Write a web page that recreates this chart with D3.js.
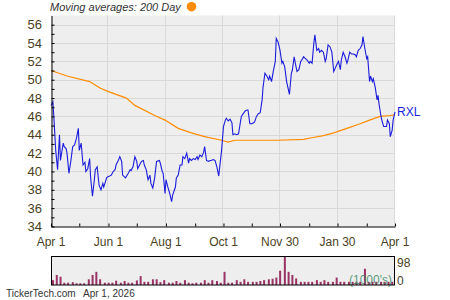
<!DOCTYPE html>
<html>
<head>
<meta charset="utf-8">
<script src="https://cdn.jsdelivr.net/npm/d3@7"></script>
<style>
body { margin: 0; background: white; }
svg { display: block; font-family: "Liberation Sans", Arial, sans-serif; }
</style>
</head>
<body>
<svg width="450" height="300"></svg>
<script>
// days counted from Apr 1 2025
const priceDays = [0,2,3,5,7,9,10,13,14,16,17,19,21,23,25,27,29,30,32,34,36,37,39,41,42,44,46,47,49,51,53,55,56,59,60,64,66,68,69,71,73,75,76,79,82,84,85,87,89,91,92,94,96,98,99,101,103,105,106,108,110,112,115,116,118,119,121,122,124,126,128,129,
  132,133,135,137,139,140,142,144,146,147,149,151,153,155,156,158,160,162,163,165,167,169,170,172,174,176,178,179,181,183,185,186,188,190,192,193,195,197,199,201,202,204,206,208,209,211,213,215,216,218,220,222,224,225,227,229,231,232,234,236,238,239,241,243,245,246,248,
  250,253,255,256,258,260,261,263,265,267,268,270,272,274,275,277,279,280,282,284,285,287,289,291,292,294,296,298,300,301,303,305,307,308,310,312,314,315,317,319,321,323,324,326,328,330,331,333,335,336,338,339,341,342,344,346,347,348,350,351,353,354,356,357,359,360,362,363,365];
const priceValues = [47.2,47.6,46.0,42.3,40.2,44.0,41.2,43.1,42.7,42.5,42.0,39.8,41.1,42.7,42.9,43.6,44.7,42.3,43.1,40.7,41.0,40.0,40.3,41.4,39.4,37.3,39.1,40.2,40.5,38.5,38.0,38.7,38.3,39.3,39.4,39.6,40.0,40.2,40.7,41.1,41.6,41.1,39.6,39.3,39.8,40.2,40.1,40.5,41.6,41.1,40.3,40.7,41.1,41.2,40.7,40.2,39.1,39.6,38.7,38.2,39.3,41.1,41.2,40.9,40.0,39.8,37.6,39.1,38.3,37.6,36.7,37.4,
  38.3,39.3,39.6,40.7,40.7,41.6,41.4,42.0,40.9,41.4,41.2,41.4,41.3,41.6,41.3,41.8,41.6,42.1,42.7,41.2,41.1,41.2,41.2,41.3,41.2,40.5,39.5,40.5,42.3,44.9,45.6,45.8,45.5,45.7,45.3,44.0,44.1,44.0,44.1,45.4,46.0,46.3,46.6,46.7,46.7,45.2,45.2,45.3,45.4,46.0,46.3,46.4,47.8,49.2,50.7,50.4,50.0,50.4,49.8,51.0,52.0,54.5,54.1,53.2,51.8,52.0,51.4,
  49.8,48.4,50.7,51.0,52.5,51.4,50.9,51.1,52.0,52.3,52.5,52.3,52.1,51.8,52.0,51.8,54.1,54.9,53.2,53.4,53.0,53.2,53.0,52.0,52.3,53.8,53.6,53.0,50.9,51.1,51.6,52.0,51.1,52.1,53.0,52.5,51.8,52.1,53.0,52.8,52.8,52.7,52.5,53.2,53.4,53.8,54.7,53.4,52.3,52.5,49.8,50.4,49.8,50.1,49.2,47.8,48.3,47.4,46.1,45.6,44.9,44.9,44.9,45.6,45.2,43.8,44.5,45.6,46.5];

const maDays = [0,17,41,52,61,80,89,110,121,135,149,163,181,188,195,241,268,278,289,300,314,328,338,349,360,365];
const maValues = [51.0,50.4,49.8,49.1,48.7,48.0,47.2,46.1,45.6,44.7,44.2,43.8,43.4,43.2,43.4,43.4,43.5,43.7,43.9,44.2,44.7,45.2,45.6,46.0,46.1,46.2];

// volume in thousands, one bar per ~4 days
const volumeValues = [17,35,29,8,8,10,6,6,6,20,35,46,20,8,8,8,15,8,14,8,8,16,31,11,11,
  20,20,10,17,8,8,14,8,17,8,6,8,8,17,8,17,14,8,46,8,8,17,11,20,11,11,11,14,17,20,22,26,50,98,46,35,23,
  11,11,11,11,17,11,17,11,11,26,11,11,11,11,11,11,57,11,11,11,11,11,11,11];

const xTickDays = [0,61,122,183,243,304,365];
const xTickLabels = ['Apr 1','Jun 1','Aug 1','Oct 1','Nov 30','Jan 30','Apr 1'];
const xMinorDays = [30,91,153,213,274,335];
const yTickValues = [34,36,38,40,42,44,46,48,50,52,54,56];

const svg = d3.select('svg');
const startDate = new Date(2025, 3, 1);
const dayToDate = d => d3.timeDay.offset(startDate, d);

const textColor = '#4a3f22';
const plot = { left: 51, right: 395, top: 15.5, bottom: 226.5 };
const vol = { top: 257, bottom: 285 };

const xScale = d3.scaleTime()
    .domain([startDate, dayToDate(365)])
    .range([plot.left, plot.right]);
const yScale = d3.scaleLinear()
    .domain([34, 57])
    .range([plot.bottom, plot.top]);
const vScale = d3.scaleLinear()
    .domain([0, 98])
    .range([vol.bottom, vol.top]);

// plot background
svg.append('rect')
    .attr('x', plot.left).attr('y', plot.top)
    .attr('width', plot.right - plot.left).attr('height', plot.bottom - plot.top)
    .attr('fill', '#eeeeee');

// grid
const grid = svg.append('g').attr('stroke', '#d9d9d9').attr('stroke-width', 1);
grid.selectAll('.hgrid').data(yTickValues.slice(1))
    .enter().append('line')
    .attr('x1', plot.left).attr('x2', plot.right)
    .attr('y1', d => Math.round(yScale(d)) + 0.5)
    .attr('y2', d => Math.round(yScale(d)) + 0.5);
grid.selectAll('.vgrid').data(xTickDays.slice(1))
    .enter().append('line')
    .attr('y1', plot.top).attr('y2', plot.bottom)
    .attr('x1', d => Math.round(xScale(dayToDate(d))) - 0.5)
    .attr('x2', d => Math.round(xScale(dayToDate(d))) - 0.5);

// moving average
const maLine = d3.line()
    .x((d, i) => xScale(dayToDate(maDays[i])))
    .y(d => yScale(d));
svg.append('path')
    .attr('d', maLine(maValues))
    .attr('fill', 'none')
    .attr('stroke', '#ff8c00')
    .attr('stroke-width', 1.2);

// price
const priceLine = d3.line()
    .x((d, i) => xScale(dayToDate(priceDays[i])))
    .y(d => yScale(d));
svg.append('path')
    .attr('d', priceLine(priceValues))
    .attr('fill', 'none')
    .attr('stroke', '#1c1cdc')
    .attr('stroke-width', 1.1);

// y axis
const yAxis = d3.axisLeft(yScale)
    .tickValues(d3.range(34, 57, 1))
    .tickSizeInner(-3).tickSizeOuter(0)
    .tickFormat('');
svg.append('g')
    .attr('transform', `translate(${plot.left + 0.5}, 0)`)
    .call(yAxis)
    .call(g => g.selectAll('line, path').attr('stroke', 'black'));
svg.append('g').selectAll('text').data(yTickValues)
    .enter().append('text')
    .attr('x', 42)
    .attr('y', d => yScale(d) + 4.5)
    .attr('text-anchor', 'end')
    .attr('font-size', 13)
    .attr('fill', textColor)
    .text(d => d);

// x axis
const xAxis = d3.axisBottom(xScale)
    .tickValues(xTickDays.concat(xMinorDays).map(dayToDate))
    .tickSizeInner(-3).tickSizeOuter(0)
    .tickFormat('');
svg.append('g')
    .attr('transform', `translate(0, ${plot.bottom})`)
    .call(xAxis)
    .call(g => g.selectAll('line, path').attr('stroke', 'black'));
svg.append('g').selectAll('text').data(xTickDays)
    .enter().append('text')
    .attr('x', d => xScale(dayToDate(d)))
    .attr('y', 246)
    .attr('text-anchor', 'middle')
    .attr('font-size', 12)
    .attr('fill', textColor)
    .text((d, i) => xTickLabels[i]);

// title + legend dot
svg.append('text')
    .attr('x', 50).attr('y', 11)
    .attr('font-size', 11)
    .attr('font-style', 'italic')
    .attr('fill', '#333')
    .text('Moving averages: 200 Day');
svg.append('circle')
    .attr('cx', 191.5).attr('cy', 6.7).attr('r', 4.8)
    .attr('fill', '#ff8c00');

// series label
svg.append('text')
    .attr('x', 397).attr('y', 115.5)
    .attr('font-size', 12)
    .attr('fill', '#1c1cdc')
    .text('RXL');

// volume panel
svg.append('rect')
    .attr('x', plot.left + 0.5).attr('y', vol.top - 0.5)
    .attr('width', plot.right - plot.left - 1).attr('height', vol.bottom - vol.top + 0.5)
    .attr('fill', '#eeeeee');
const barStep = (plot.right - plot.left) / volumeValues.length;
svg.append('g').selectAll('rect').data(volumeValues)
    .enter().append('rect')
    .attr('x', (d, i) => xScale(dayToDate(i * 365 / volumeValues.length)) + 1)
    .attr('width', barStep / 2)
    .attr('y', d => vScale(d))
    .attr('height', d => vol.bottom - vScale(d))
    .attr('fill', '#993366');
svg.append('text')
    .attr('x', 392).attr('y', 284)
    .attr('text-anchor', 'end')
    .attr('font-size', 12)
    .attr('fill', '#3d8a64')
    .attr('fill-opacity', 0.85)
    .text("(1000's)");
svg.append('rect')
    .attr('x', plot.left + 0.5).attr('y', vol.top - 0.5)
    .attr('width', plot.right - plot.left - 1).attr('height', vol.bottom - vol.top + 0.5)
    .attr('fill', 'none')
    .attr('stroke', 'black');
svg.append('text')
    .attr('x', 397).attr('y', 266.5)
    .attr('font-size', 12)
    .attr('fill', textColor)
    .text('98');
svg.append('text')
    .attr('x', 397).attr('y', 284.5)
    .attr('font-size', 12)
    .attr('fill', textColor)
    .text('0');

// footer
svg.append('text')
    .attr('x', 6).attr('y', 297)
    .attr('font-size', 10)
    .attr('fill', '#333')
    .text('TickerTech.com');
svg.append('text')
    .attr('x', 83).attr('y', 297)
    .attr('font-size', 10)
    .attr('fill', '#333')
    .text('Apr 1, 2026');
</script>
</body>
</html>
